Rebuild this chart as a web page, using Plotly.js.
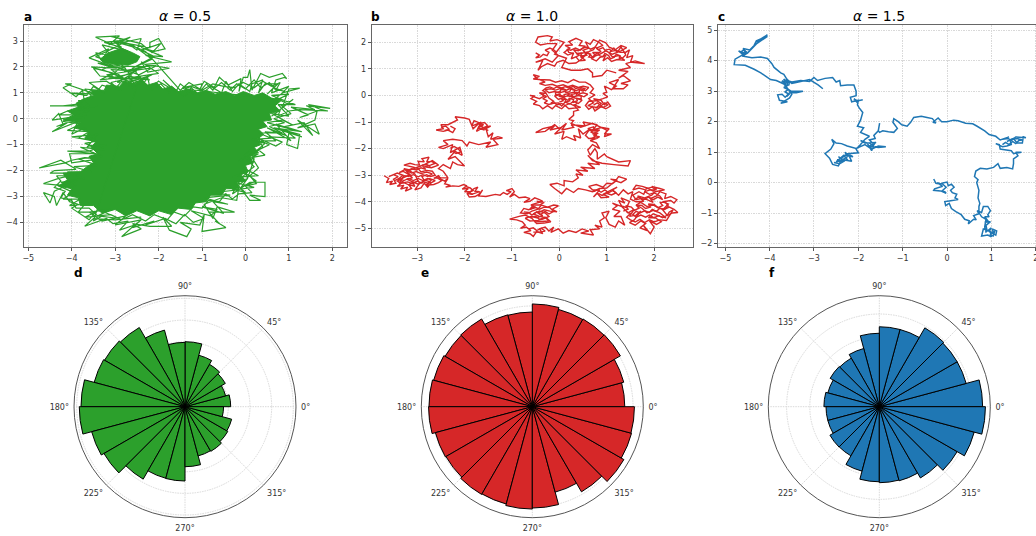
<!DOCTYPE html>
<html><head><meta charset="utf-8">
<script src="https://cdn.plot.ly/plotly-3.0.1.min.js"></script>
<style>html,body{margin:0;padding:0;overflow:hidden;background:#fff}#p{width:1042px;height:536px}</style>
</head><body><div id="p"></div>
<script>
const massA = [-3.75,0.75,-3.5,0.9,-3.55,1.1,-3.25,1.1,-3.2,1.3,-2.9,1.25,-2.8,1.45,-2.55,1.35,-2.4,1.5,-2.25,1.3,-2.05,1.4,-1.9,1.15,-1.7,1.25,-1.55,1.05,-1.3,1.15,-1.1,1.0,-0.9,1.1,-0.7,0.95,-0.45,1.05,-0.25,0.9,-0.05,1.05,0.2,0.9,0.4,1.0,0.6,0.8,0.82,0.7,0.68,0.5,0.8,0.3,0.55,0.2,0.6,-0.05,0.4,-0.1,0.5,-0.3,0.3,-0.4,0.42,-0.6,0.28,-0.78,0.35,-1.0,0.2,-1.1,0.3,-1.3,0.1,-1.45,0.18,-1.7,0,-1.8,0.06,-2.05,-0.1,-2.15,0,-2.4,-0.2,-2.45,-0.15,-2.7,-0.45,-2.7,-0.55,-2.95,-0.8,-2.95,-0.9,-3.2,-1.15,-3.25,-1.25,-3.5,-1.55,-3.45,-1.7,-3.7,-2.0,-3.55,-2.2,-3.75,-2.5,-3.55,-2.75,-3.75,-3.0,-3.5,-3.3,-3.65,-3.5,-3.35,-3.8,-3.35,-3.85,-3.05,-4.1,-2.95,-4.0,-2.7,-4.3,-2.6,-4.1,-2.35,-4.2,-2.1,-3.8,-2.05,-3.65,-1.85,-3.5,-1.7,-3.6,-1.45,-3.4,-1.35,-3.55,-1.1,-3.45,-0.9,-3.7,-0.75,-3.6,-0.5,-3.95,-0.35,-3.8,-0.15,-4.2,-0.05,-3.95,0.15,-4.1,0.3,-3.85,0.45,-3.9,0.6,-3.75,0.75];
const massATop = [-3.35,2.3,-3.15,2.55,-2.85,2.72,-2.6,2.55,-2.43,2.4,-2.5,2.2,-2.7,2.07,-3.0,2.1,-3.25,2.15,-3.35,2.3];
const walkAEdge = [-2.4,-3.8,-3.0,-3.9,-3.5,-3.85,-3.7,-4.15,-3.2,-3.85,-3.05,-4.05,-2.7,-3.95,-2.9,-4.3,-2.55,-4.1,-2.85,-4.55,-2.4,-4.25,-2.6,-4.05,-2.2,-4.15,-1.7,-4.15,-1.9,-3.8,-1.75,-4.3,-1.35,-4.55,-1.25,-4.25,-1.5,-4.0,-1.05,-4.1,-0.95,-3.7,-1.0,-4.35,-0.45,-4.2,-0.7,-3.95,-0.6,-4.05,-0.85,-3.6,-0.25,-3.6,-0.65,-3.4,-0.75,-3.85,-0.95,-3.3,-0.55,-3.05,-0.2,-3.15,-0.15,-2.6,0.1,-3.15,0.35,-3.15,0.1,-2.95,0.45,-3.0,0.45,-2.45,0.1,-2.45,-0.3,-2.9,-0.1,-2.3,0.05,-2.05,-0.3,-2.25,0.3,-2.2,-0.05,-1.9,0.05,-2.3,0.2,-1.55,0.1,-1.2,-0.15,-1.65,0.4,-1.1,0.3,-0.75,0.7,-1.05,0.85,-0.9,0.55,-0.7,1.15,-0.75,1.0,-0.55,0.95,-1.0,1.2,-1.15,1.25,-0.6,0.8,-0.4,1.3,-0.7,0.65,-0.35,1.3,-0.5,0.9,-0.3,1.35,-0.15,1.55,-0.65,1.2,-0.05,1.7,-0.6,1.6,-0.2,1.2,-0.35,1.6,-0.05,1.65,0.3,1.25,0.05,1.45,0.15,1.05,0.45,1.6,0.35,1.4,0.5,1.95,0.4,1.45,0.55,1.75,0.35,1.9,0.3,1.25,0.35,1.0,0.3,0.75,0.1,0.8,0.35,0.6,0.1,1.1,0.75,0.85,0.45,1.0,1.15,1.25,1.18,0.85,1.0,1.0,1.25,0.6,1.0,0.7,1.5,0.9,1.6,0.95,1.55,0.85,1.75,0.55,1.6,0.35,1.75,0.15,1.1,0.1,1.9,0.05,1.6,-0.05,1.6,-0.15,1.05,-0.1,1.55,-0.4,1.3,-0.6,1.6,-0.75,1.1,-0.9,1.35,-1.05,1.05,-1.0,1.35,-1.45,1.2,-1.2,0.95,-1.5,1.35,-1.6,1.05,-1.9,1.5,-1.65,1.1,-2.0,1.45,-2.2,1.2,-2.25,1.6,-2.35,1.35,-2.7,1.55,-3.1,1.4,-2.85,1.05,-3.2,1.45,-3.6,1.4,-3.25,1.0,-3.5,1.25,-3.65,0.9,-4.05,1.0,-3.45,0.95,-4.15,1.35,-4.0,1.35,-4.2,1.2,-3.9,0.85,-3.75,1.1,-3.7,0.6,-4.2,0.5,-4.5,0.5,-3.4,0.5,-4.1,0.3,-4.3,0.15,-3.65,0.15,-4.45,-0.05,-4.3,0.2,-4.2,-0.2,-4.35,-0.3,-4.1,-0.15,-4.45,-0.5,-3.85,-0.1,-4.0,-0.6,-3.7,-0.35,-3.5,-0.85,-4.0,-0.7,-3.4,-0.6,-3.65,-1.1,-3.2,-1.0,-3.6,-1.25,-4.1,-1.25,-3.4,-1.35,-4.05,-1.35,-4.0,-1.7,-3.35,-1.55,-3.7,-1.5,-4.0,-1.6,-4.15,-1.7,-4.75,-1.9,-4.25,-1.6,-3.9,-1.95,-4.4,-2.0,-4.5,-2.1,-3.8,-2.1,-4.3,-2.3,-4.65,-2.5,-4.1,-2.6,-3.9,-2.4,-4.4,-2.8,-4.5,-3.25,-4.65,-2.85,-4.4,-3.0,-4.35,-3.35,-4.2,-2.85,-4.05,-3.2,-3.85,-3.3,-4.0,-3.45,-3.6,-3.9,-3.4,-3.5,-2.9,-3.85];
const walkAFringe = [-2.9,-3.85,-3.4,-3.75,-3.1,-3.5,-3.6,-3.6,-3.3,-3.95,-2.75,-3.75,-3.0,-4.1,-2.4,-3.9,-2.6,-4.2,-2.1,-3.95,-2.3,-4.1,-1.85,-3.85,-1.6,-4.05,-1.4,-3.7,-1.2,-4.0,-0.95,-3.85,-1.25,-3.55,-0.8,-3.75,-0.65,-3.5,-1.0,-3.4,-0.5,-3.65,-0.75,-3.2,-0.4,-3.3,-0.95,-3.05,-0.35,-2.95,-0.75,-2.85,-0.2,-2.75,-0.5,-2.6,0.0,-2.85,-0.25,-2.45,0.2,-2.65,-0.3,-2.75,0.05,-2.3,-0.1,-2.65,0.25,-2.4,0.0,-2.1,0.2,-1.85,0.05,-1.6,0.3,-1.35,0.1,-1.45,0.45,-0.95,0.15,-0.8,0.6,-0.75,0.3,-0.55,0.75,-0.55,0.95,-0.65,0.5,-0.35,1.05,-0.85,0.7,-0.2,1.15,-0.45,0.5,-0.15,0.85,-0.05,1.1,-0.25,0.6,0.2,1.0,0.1,0.75,0.55,1.0,0.55,0.7,0.8,0.9,1.05,0.65,1.2,0.5,0.95,0.75,1.35,0.45,1.35,0.3,1.0,0.4,1.5,0.15,1.35,0.1,1.05,-0.15,1.35,-0.3,1.05,-0.45,1.45,-0.55,1.0,-0.8,1.25,-1.05,0.9,-1.25,1.2,-1.4,0.85,-1.7,1.25,-1.75,1.0,-1.95,1.35,-2.15,1.1,-2.4,1.5,-2.6,1.2,-2.85,1.45,-3.0,1.15,-3.3,1.3,-3.4,1.1,-3.7,1.15,-3.5,0.8,-3.85,0.7,-3.6,0.55,-3.95,0.35,-3.6,0.3,-4.0,0.05,-3.7,0.05,-4.2,-0.1,-3.8,-0.2,-4.1,-0.45,-3.6,-0.5,-3.85,-0.75,-3.4,-0.85,-3.7,-0.95,-3.25,-1.2,-3.8,-1.1,-3.3,-1.45,-3.85,-1.55,-3.4,-1.8,-3.95,-1.85,-3.55,-2.05,-4.1,-2.05,-3.7,-2.3,-4.25,-2.45,-3.9,-2.6,-4.35,-2.55,-3.95,-2.85,-4.2,-3.1,-3.8,-3.1,-4.05,-3.35,-3.7,-3.3,-3.85,-3.6,-3.45,-3.6,-3.7,-3.8,-3.3,-3.75,-3.5,-3.95];
const walkATop = [-2.5,1.25,-2.7,1.65,-2.2,1.5,-3.35,1.65,-3.5,1.95,-2.9,1.7,-3.55,2.0,-2.95,1.95,-3.6,2.35,-3.15,2.7,-3.3,2.25,-3.45,2.55,-3.1,2.45,-3.3,2.85,-2.7,2.6,-3.45,3.15,-2.9,3.2,-3.15,2.85,-2.65,3.15,-2.95,2.9,-2.4,3.1,-2.5,2.65,-2.7,2.9,-2.2,2.75,-2.2,2.95,-2.0,3.1,-1.85,2.7,-2.1,2.6,-2.4,2.75,-1.9,2.4,-2.3,2.45,-1.7,2.2,-2.3,2.1,-1.75,1.95,-2.25,1.8,-2.4,2.2,-2.0,1.75,-2.6,1.6,-2.9,2.2,-3.2,2.05,-2.3,2.0,-2.8,1.85,-2.2,1.95,-3.2,1.7,-2.7,1.45,-3.1,1.9,-2.5,1.85,-3.0,1.55,-2.4,1.6,-2.8,1.3,-2.3,1.35,-2.6,1.95,-2.15,2.3,-2.6,2.85,-3.05,3.0,-2.85,2.75,-3.25,2.95,-2.75,3.05,-3.1,3.18,-2.4,2.9,-2.15,2.55,-1.95,2.9,-2.4,2.65,-2.1,2.4,-2.55,2.0,-2.05,2.05,-2.45,1.7,-2.9,1.95,-3.15,1.55,-2.6,1.75,-2.95,1.4,-2.5,1.5,-2.15,1.7,-2.6,1.35,-3.05,1.75,-3.35,1.5,-2.85,1.6,-3.3,1.9,-3.05,2.05,-3.4,2.15,-3.1,2.0,-2.75,1.95,-3.45,2.4,-3.0,2.75,-3.2,2.6,-2.85,2.9,-2.55,2.75,-2.9,3.05,-2.3,2.6];
const walkAUpper = [-1.5,1.1,-1.3,1.4,-1.05,1.15,-0.95,1.45,-0.7,1.2,-0.55,1.4,-0.35,1.1,-0.2,1.35,0,1.15,0.2,1.5,0.35,1.2,0.55,1.4,0.7,1.1,0.8,1.4,0.6,1.25,0.4,1.45,0.2,1.2,-0.05,1.4,-0.25,1.2,-0.5,1.25,-0.75,1.35,-1.0,1.1,-1.25,1.25,-1.4,1.15,0.75,0.75,1.0,0.95,0.6,0.9,0.9,0.7,1.15,0.55,0.8,0.55,1.05,0.2,0.65,0.0,0.9,-0.15,0.55,-0.3,0.85,-0.55,0.45,-0.5,0.7,-0.85,0.35,-0.85,0.55,-1.0,0.3,-1.2,0.45,-1.4,0.15,-1.5,0.3,-1.9,0.1,-2.2,0.25,-2.5,0,-2.6,0.15,-2.85,-0.15,-2.9,-0.3,-3.1,-0.45,-2.9,-0.6,-3.2,-0.85,-3.15,-1.0,-3.45,-1.2,-3.4,-1.4,-3.75,-1.65,-3.6,-1.8,-3.9,-2.1,-3.7,-2.3,-3.95,-2.6,-3.7,-2.85,-3.9,-3.1,-3.7,-3.4,-3.75,-3.6,-3.45,-3.9,-3.45,-4.0,-3.15,-4.25,-3.05,-4.15,-2.8,-4.4,-2.65,-4.25,-2.4,-4.35,-2.2,-3.95,-2.2];
const walkB = [-3.7,-3.02,-3.6,-3.12,-3.65,-3.28,-3.52,-3.22,-3.58,-3.35,-3.45,-3.3,-3.5,-3.15,-3.4,-3.05,-3.5,-2.98,-3.6,-3.05,-3.42,-2.92,-3.3,-3.0,-3.4,-3.15,-3.3,-3.25,-3.42,-3.42,-3.28,-3.38,-3.35,-3.52,-3.2,-3.45,-3.25,-3.6,-3.12,-3.5,-3.18,-3.35,-3.05,-3.42,-3.1,-3.25,-3.22,-3.15,-3.1,-3.1,-3.2,-2.95,-3.3,-2.85,-3.38,-2.9,-3.25,-2.78,-3.15,-2.85,-3.05,-2.95,-3.0,-3.15,-2.95,-3.3,-3.05,-3.55,-2.92,-3.48,-2.85,-3.3,-2.78,-3.45,-2.7,-3.28,-2.62,-3.2,-2.75,-3.12,-2.85,-3.2,-2.9,-3.05,-2.8,-2.98,-2.72,-3.05,-2.62,-3.0,-2.68,-2.85,-2.8,-2.82,-2.92,-2.88,-2.98,-2.75,-3.08,-2.7,-3.2,-2.65,-3.28,-2.62,-3.15,-2.55,-3.05,-2.6,-2.95,-2.62,-2.98,-2.48,-2.85,-2.5,-2.9,-2.38,-2.75,-2.32,-2.8,-2.5,-2.7,-2.48,-2.62,-2.55,-2.72,-2.62,-2.85,-2.68,-2.7,-2.72,-2.55,-2.62,-2.68,-2.45,-2.85,-2.6,-3.02,-2.72,-3.15,-2.8,-3.28,-2.75,-3.15,-2.98,-3.3,-3.1,-3.42,-3.22,-3.35,-3.3,-3.2,-3.25,-3.1,-3.32,-3.0,-3.22,-2.9,-3.3,-2.85,-3.18,-2.72,-3.25,-2.82,-3.38,-2.65,-3.35,-2.55,-3.28,-2.48,-3.2,-2.58,-3.1,-2.65,-3.12,-2.55,-3.02,-2.5,-3.15,-2.42,-3.22,-2.35,-3.12,-2.42,-3.32,-2.3,-3.38,-2.4,-3.45,-2.25,-3.4,-2.12,-3.42,-2.02,-3.35,-1.95,-3.4,-2.05,-3.52,-1.92,-3.5,-2.0,-3.62,-1.88,-3.62,-1.8,-3.5,-1.72,-3.45,-1.78,-3.6,-1.68,-3.62,-1.85,-3.72,-1.95,-3.68,-1.9,-3.82,-1.78,-3.8,-1.7,-3.72,-1.62,-3.55,-1.7,-3.78,-1.55,-3.8,-1.35,-3.72,-1.25,-3.75,-1.18,-3.65,-1.1,-3.72,-1.02,-3.62,-1.12,-3.58,-1.0,-3.5,-0.95,-3.62,-1.05,-3.82,-0.95,-3.72,-0.85,-3.85,-0.72,-3.82,-0.62,-3.88,-0.75,-4.02,-0.62,-3.98,-0.52,-3.85,-0.42,-3.92,-0.35,-3.98,-0.48,-4.05,-0.6,-4.12,-0.5,-4.22,-0.65,-4.3,-0.75,-4.25,-0.82,-4.42,-0.68,-4.45,-0.58,-4.35,-0.45,-4.28,-0.38,-4.12,-0.25,-4.2,-0.12,-4.12,-0.02,-4.15,-0.15,-4.28,-0.05,-4.38,-0.2,-4.35,-0.32,-4.3,-0.45,-4.42,-0.35,-4.52,-0.48,-4.6,-0.6,-4.55,-0.72,-4.62,-0.62,-4.72,-0.45,-4.7,-0.35,-4.65,-0.22,-4.55,-0.3,-4.42,-0.42,-4.35,-0.55,-4.45,-0.42,-4.55,-0.28,-4.6,-0.18,-4.75,-0.32,-4.8,-0.48,-4.82,-0.58,-4.62,-0.72,-4.5,-0.85,-4.55,-1.05,-4.65,-0.9,-4.68,-0.78,-4.75,-0.72,-4.88,-0.82,-5.0,-0.7,-4.95,-0.6,-5.08,-0.75,-5.15,-0.62,-5.2,-0.55,-5.3,-0.48,-5.12,-0.35,-5.2,-0.42,-5.02,-0.3,-4.95,-0.22,-5.1,-0.12,-4.95,-0.18,-5.15,-0.02,-5.02,0.08,-5.18,0.2,-5.08,0.35,-5.15,0.48,-5.02,0.62,-5.1,0.45,-5.18,0.72,-5.25,0.65,-5.05,0.85,-5.02,0.75,-4.88,0.9,-4.95,0.85,-4.72,0.95,-4.6,0.9,-4.42,1.05,-4.35,0.98,-4.6,1.05,-4.85,1.18,-4.95,1.25,-4.72,1.38,-4.88,1.3,-4.55,1.15,-4.55,1.28,-4.35,1.12,-4.28,1.22,-4.15,1.12,-4.05,1.32,-4.18,1.25,-3.95,1.38,-4.05,1.3,-3.85,1.48,-3.98,1.42,-4.22,1.3,-4.15,1.45,-4.42,1.58,-4.28,1.48,-4.55,1.62,-4.5,1.72,-4.35,1.58,-4.68,1.48,-4.78,1.6,-4.88,1.72,-4.72,1.82,-4.82,1.7,-4.98,1.85,-5.08,1.78,-4.9,1.92,-5.2,2.0,-4.95,1.9,-4.72,2.05,-4.85,2.15,-4.75,2.02,-4.6,1.88,-4.6,1.98,-4.45,2.12,-4.55,2.25,-4.6,2.12,-4.42,1.98,-4.32,1.85,-4.42,1.75,-4.25,1.62,-4.12,1.72,-4.02,1.85,-4.18,1.98,-4.12,2.08,-4.22,2.2,-4.3,2.32,-4.2,2.42,-4.28,2.5,-4.4,2.38,-4.42,2.28,-4.52,2.18,-4.3,2.3,-4.08,2.18,-4.0,2.35,-3.95,2.42,-4.05,2.48,-3.92,2.35,-3.8,2.22,-3.88,2.25,-3.7,2.12,-3.62,2.05,-3.78,1.92,-3.88,1.98,-4.02,1.85,-3.92,1.72,-3.88,1.62,-3.92,1.55,-3.75,1.68,-3.62,1.78,-3.72,1.82,-3.55,1.68,-3.48,1.55,-3.55,1.62,-3.38,1.75,-3.42,1.85,-3.48,1.98,-3.6,2.05,-3.48,1.95,-3.42,2.12,-3.5,2.22,-3.55,2.02,-3.62,1.95,-3.75,1.8,-3.85,1.65,-3.78,1.78,-3.98,1.62,-4.0,1.5,-3.9,1.55,-3.62,1.45,-3.7,1.35,-3.55,1.25,-3.75,1.12,-3.55,1.22,-3.45,1.05,-3.6,0.92,-3.72,1.05,-3.82,0.88,-3.85,0.8,-3.68,0.72,-3.82,0.85,-3.55,0.7,-3.55,0.62,-3.42,0.78,-3.35,0.92,-3.45,1.0,-3.3,1.12,-3.32,1.22,-3.18,1.08,-3.15,1.3,-3.28,1.42,-3.15,1.25,-3.05,1.18,-3.22,1.0,-3.48,0.85,-3.5,0.7,-3.62,0.55,-3.55,0.4,-3.5,0.3,-3.65,0.15,-3.5,0.05,-3.7,-0.1,-3.5,-0.2,-3.35,-0.05,-3.3,0.1,-3.4,0.1,-3.2,0.28,-3.25,0.4,-3.1,0.35,-2.95,0.5,-3.0,0.35,-2.8,0.6,-2.85,0.45,-2.7,0.75,-2.75,0.6,-2.55,0.85,-2.6,0.65,-2.35,0.6,-2.25,0.7,-2.45,0.9,-2.55,1.15,-2.6,1.45,-2.65,1.5,-2.45,1.25,-2.5,1.0,-2.3,0.95,-2.2,0.8,-2.4,0.8,-2.15,0.75,-2.0,0.65,-2.25,0.6,-2.05,0.7,-1.85,0.85,-2.0,0.78,-1.78,0.65,-1.7,0.78,-1.62,0.85,-1.55,0.72,-1.52,0.82,-1.42,0.7,-1.45,0.85,-1.3,0.72,-1.32,0.6,-1.25,0.72,-1.18,0.8,-1.6,0.62,-1.62,0.55,-1.5,0.65,-1.25,0.5,-1.45,0.4,-1.25,0.45,-1.6,0.3,-1.5,0.35,-1.7,0.15,-1.55,0.05,-1.65,0.1,-1.35,-0.1,-1.45,0.05,-1.2,-0.2,-1.3,-0.1,-1.15,-0.35,-1.25,-0.5,-1.4,-0.3,-1.35,-0.1,-1.1,0,-1.25,0.15,-1.05,0.05,-1.3,0.3,-1.2,0.25,-1.1,0.55,-1.15,0.5,-1.0,0.8,-1.1,0.7,-1.3,0.9,-1.2,1.05,-1.25,0.95,-1.45,1.1,-1.45,0.95,-1.55,1.0,-1.3,0.7,-1.05,0.45,-1.2,0.25,-1.05,0.3,-0.95,0.2,-0.9,0.3,-0.75,0.3,-0.6,0.4,-0.55,0.3,-0.35,0.45,-0.45,0.2,-0.5,0.12,-0.38,0.05,-0.5,-0.08,-0.38,-0.15,-0.5,-0.25,-0.38,-0.35,-0.5,-0.42,-0.38,-0.55,-0.32,-0.48,-0.22,-0.6,-0.12,-0.52,-0.02,-0.62,0,-0.42,-0.12,-0.32,-0.02,-0.42,0.1,-0.28,0.08,-0.22,-0.1,-0.12,-0.22,-0.18,-0.3,-0.02,-0.28,0.05,-0.4,0.12,-0.25,0.22,-0.32,0.3,-0.22,0.4,-0.3,0.48,-0.18,0.38,-0.12,0.28,-0.08,0.18,-0.18,0.08,-0.08,-0.02,-0.15,-0.1,-0.02,0,0.02,0.12,-0.05,0.22,0.03,0.32,-0.05,0.42,0.02,0.52,-0.05,0.6,0.05,0.5,0.1,0.4,0.05,0.3,0.12,0.2,0.08,0.1,0.15,0,0.1,-0.1,0.15,-0.22,0.1,-0.3,0.22,-0.18,0.25,-0.08,0.2,0.05,0.28,0.15,0.2,0.25,0.28,0.35,0.18,0.45,0.25,0.55,0.18,0.62,0.3,0.5,0.35,0.4,0.3,0.28,0.38,0.18,0.33,0.08,0.4,-0.05,0.35,-0.15,0.42,-0.3,0.38,-0.42,0.45,-0.3,0.5,-0.42,0.6,-0.55,0.62,-0.42,0.72,-0.55,0.78,-0.45,0.6,-0.2,0.58,-0.08,0.5,0.05,0.55,0.18,0.48,0.3,0.6,0.42,0.5,0.55,0.5,0.65,0.4,0.72,0.25,0.65,0.1,0.75,0.02,0.62,-0.12,0.72,-0.28,0.6,-0.38,0.78,-0.45,0.88,-0.3,0.72,-0.12,0.88,-0.18,0.95,-0.35,1.02,-0.25,1.08,-0.4,0.98,-0.5,0.88,-0.42,0.75,-0.58,0.7,-0.42,0.62,-0.52,0.55,-0.38,0.62,-0.22,0.78,-0.2,0.92,-0.12,1.02,-0.05,0.92,0.08,1.0,0.12,0.95,0.35,1.1,0.22,1.2,0.35,1.05,0.48,1.25,0.6,1.12,0.25,1.35,0.25,1.45,0.4,1.3,0.45,1.5,0.55,1.35,0.75,1.25,0.65,1.45,0.9,1.25,0.95,1.5,1.05,1.4,1.2,1.6,1.3,1.8,1.2,1.5,1.25,1.55,1.5,1.42,1.42,1.48,1.72,1.38,1.6,1.3,1.82,1.22,1.62,1.15,1.78,1.05,1.6,1.12,1.45,1.25,1.5,1.38,1.32,1.22,1.35,1.1,1.28,1.02,1.42,0.92,1.3,0.98,1.52,0.85,1.42,0.78,1.3,0.68,1.38,0.75,1.55,0.88,1.65,0.78,1.78,0.92,1.88,0.82,2.02,0.72,2.1,0.65,1.92,0.55,2.02,0.62,1.78,0.5,1.7,0.58,1.52,0.45,1.45,0.55,1.32,0.42,1.3,0.35,1.45,0.25,1.38,0.3,1.6,0.18,1.52,0.1,1.62,0.22,1.78,0.12,1.88,0.28,1.9,0.2,2.02,0.35,2.15,0.48,2.05,0.42,1.88,0.55,1.85,0.4,1.68,0.3,1.72,0.38,1.55,0.62,1.65,0.72,1.72,0.85,2.08,0.98,1.98,1.05,1.82,1.18,1.72,1.3,1.88,1.42,1.8,1.3,1.68,1.12,1.55,0.98,1.68,0.85,1.55,0.7,1.45,0.6,1.62,0.48,1.38,0.35,1.22,0.2,1.2,0.08,1.32,-0.05,1.25,-0.1,1.1,-0.25,1.2,-0.38,1.08,-0.45,0.95,-0.35,1.32,-0.5,1.25,-0.3,1.38,-0.15,1.25,-0.02,1.5,-0.15,1.7,-0.05,1.95,-0.25,1.95,-0.4,1.9,-0.5,2.0,-0.45,2.2,-0.25,2.25,-0.15,2.2,-0.2,2.05,-0.05,2.1,0.1,2.0,-0.1,1.55,0.15,1.4,0.05,1.05,0.25,0.95,0.45,0.95,0.6,1.0,0.7,0.85,0.7,0.7,0.9,0.75,1.0,0.95,1.2,0.85];
const walkBLeft = [-2.6,-3.05,-2.5,-3.1,-2.35,-3.1,-2.45,-2.85,-2.55,-2.75,-2.45,-2.6,-2.3,-2.75,-2.25,-2.5,-2.15,-2.6,-2.0,-2.65,-2.2,-2.3,-2.35,-2.4,-2.2,-2.1,-2.05,-2.25,-2.1,-1.95,-2.3,-2.15,-2.25,-1.85,-2.45,-2.0,-2.55,-1.95,-2.35,-1.85,-2.45,-1.7,-2.25,-1.65,-2.05,-1.7,-1.95,-1.9,-1.9,-1.75,-1.7,-1.85,-1.45,-1.75,-1.55,-1.95,-1.3,-1.85,-1.4,-1.65,-1.2,-1.6,-1.3,-1.55,-1.45,-1.65,-1.4,-1.4,-1.5,-1.55,-1.55,-1.25,-1.45,-1.15,-1.6,-1.2,-1.75,-1.35,-1.65,-1.0,-1.85,-1.15,-1.8,-0.95,-1.6,-1.1,-1.72,-1.22,-1.58,-1.3,-1.7,-1.05,-1.82,-1.25,-1.9,-0.9,-2.0,-0.85,-2.2,-0.8,-2.15,-0.92,-2.35,-1.1,-2.5,-1.1,-2.45,-1.25,-2.6,-1.3,-2.45,-1.35,-2.35,-1.3,-2.25,-1.4,-2.2,-1.25,-2.3,-1.15];
const walkBDense = [0,-0.25,0.08,-0.2,0.04,-0.12,0.14,-0.16,0.12,-0.26,0.22,-0.2,0.2,-0.1,0.3,-0.16,0.28,-0.27,0.38,-0.2,0.36,-0.1,0.46,-0.14,0.46,-0.02,0.36,0,0.38,0.08,0.26,0.04,0.28,-0.05,0.18,-0.02,0.2,0.07,0.1,0.03,0.1,-0.06,0,-0.04,0.02,0.06,-0.08,0.02,-0.08,0.1,0.02,0.15,0.03,0.23,0.12,0.2,0.14,0.11,0.22,0.14,0.24,0.24,0.32,0.19,0.32,0.1,0.42,0.12,0.42,0.22,0.5,0.16,0.54,0.26,0.44,0.3,0.34,0.26,0.3,0.34,0.2,0.28,0.12,0.33,0.05,0.28,-0.05,0.32,-0.12,0.26,-0.2,0.32,-0.28,0.28,-0.35,0.18,-0.28,0.12,-0.36,0.04,-0.27,-0.04,-0.35,-0.12,-0.25,-0.2,-0.32,-0.28,-0.22,-0.34,-0.1,-0.28,-0.05,-0.36,0.05,-0.3,0.12,-0.38,0.22,-0.3,0.3,-0.38,0.38,-0.3,null,null,0.35,1.45,0.42,1.52,0.36,1.58,0.48,1.6,0.44,1.48,0.54,1.5,0.56,1.6,0.66,1.55,0.62,1.45,0.72,1.42,0.76,1.52,0.7,1.62,0.82,1.62,0.84,1.5,0.92,1.45,0.96,1.58,1.04,1.5,1.08,1.38,1.16,1.44,1.2,1.55,1.28,1.5,1.26,1.38,1.34,1.42,1.4,1.52,1.38,1.62,1.28,1.62,1.2,1.7,1.1,1.66,1.06,1.74,0.96,1.7,0.92,1.8,0.82,1.72,0.76,1.82,0.66,1.74,0.58,1.82,0.5,1.78,0.44,1.7,0.34,1.78,0.24,1.7,0.16,1.74,0.2,1.62,0.3,1.58,null,null,-0.5,1.6,-0.42,1.52,-0.5,1.42,-0.4,1.45,-0.34,1.55,-0.26,1.5,-0.22,1.62,-0.3,1.7,-0.2,1.78,-0.12,1.72,-0.06,1.62,null,null,1.35,-4.35,1.45,-4.28,1.4,-4.15,1.52,-4.2,1.58,-4.32,1.68,-4.24,1.62,-4.12,1.74,-4.14,1.82,-4.25,1.92,-4.2,1.88,-4.08,2.0,-4.1,2.08,-4.22,2.18,-4.14,2.12,-4.02,2.24,-4.02,2.3,-4.16,2.22,-4.28,2.12,-4.24,2.05,-4.36,1.96,-4.28,1.9,-4.4,1.8,-4.34,1.7,-4.42,1.62,-4.36,1.55,-4.48,1.62,-4.58,1.72,-4.5,1.82,-4.58,1.9,-4.5,2.0,-4.6,2.1,-4.52,2.18,-4.6,2.28,-4.5,2.32,-4.38,2.4,-4.3,2.26,-4.7,2.12,-4.68,2.0,-4.76,1.9,-4.68,1.8,-4.78,1.7,-4.66,1.6,-4.76,1.5,-4.68,1.42,-4.58,1.5,-4.44,1.42,-4.38,null,null,1.58,-3.92,1.68,-3.82,1.78,-3.92,1.88,-3.82,1.98,-3.92,2.08,-3.82,2.18,-3.92,2.12,-3.78,2.0,-3.66,1.9,-3.72,1.8,-3.62,1.92,-3.55,2.05,-3.55,1.95,-3.45,1.82,-3.52,null,null,-3.48,-3.2,-3.38,-3.12,-3.28,-3.2,-3.18,-3.12,-3.08,-3.2,-2.98,-3.12,-2.88,-3.2,-2.78,-3.12,-2.7,-3.18,-2.78,-3.3,-2.88,-3.24,-2.98,-3.34,-3.08,-3.26,-3.18,-3.36,-3.28,-3.28,-3.38,-3.3,-3.28,-3.02,-3.18,-3.04,-3.08,-2.98,-2.98,-3.06,-2.88,-2.98,-2.78,-3.05,-2.68,-2.95,-2.8,-2.88,-2.92,-2.94,-3.02,-2.86,-3.12,-2.92,-3.22,-2.84,-3.12,-2.76,-3.02,-2.8,-2.92,-2.72,-2.82,-2.78,-2.9,-2.62,-2.8,-2.6,-2.72,-2.68,null,null,-0.75,-4.38,-0.65,-4.4,-0.58,-4.5,-0.48,-4.38,-0.4,-4.48,-0.3,-4.36,-0.22,-4.46,-0.12,-4.36,-0.2,-4.22,-0.32,-4.2,-0.42,-4.28,-0.52,-4.2,-0.62,-4.28,-0.55,-4.12,-0.42,-4.12,-0.32,-4.02,-0.48,-3.98,null,null,-0.62,-4.58,-0.5,-4.54,-0.42,-4.66,-0.3,-4.58,-0.22,-4.72,-0.38,-4.74,-0.52,-4.76,null,null,-0.65,-5.02,-0.55,-4.98,-0.48,-5.08,-0.38,-5.0,-0.3,-5.1,-0.42,-5.14,-0.55,-5.14,null,null,0.72,-3.62,0.8,-3.55,0.88,-3.64,0.96,-3.55,1.04,-3.66,1.12,-3.58,1.2,-3.66,1.1,-3.74,1.0,-3.68,0.9,-3.76,0.82,-3.68,null,null,0.72,-0.36,0.8,-0.28,0.88,-0.38,0.96,-0.28,1.02,-0.36,0.94,-0.44,0.84,-0.42,0.76,-0.48,null,null,-1.72,-1.2,-1.62,-1.15,-1.68,-1.05,-1.58,-1.02,-1.52,-1.12,-1.58,-1.24,-1.5,-1.32,null,null,-2.3,-1.98,-2.22,-1.92,-2.14,-2.0,-2.08,-2.12,-2.18,-2.18,-2.28,-2.08,null,null,-1.98,-3.42,-1.88,-3.48,-1.82,-3.58,-1.92,-3.66,-1.82,-3.72,null,null,0.68,-1.62,0.76,-1.55,0.7,-1.68,0.78,-1.45,0.66,-1.38,0.78,-1.28,0.62,-1.32,null,null,-2.5,-1.2,-2.4,-1.15,-2.32,-1.28,-2.42,-1.32];
const walkC = [-0.3,0.12,-0.25,-0.02,-0.12,-0.05,-0.22,0,-0.1,-0.12,-0.28,-0.2,-0.3,-0.25,-0.15,-0.27,-0.05,-0.3,-0.02,-0.35,-0.12,-0.28,-0.02,-0.15,-0.12,-0.02,0,0.02,0.03,-0.1,0.1,-0.05,0.16,-0.15,0.08,-0.25,0.12,-0.33,0.22,-0.38,0.18,-0.5,0.25,-0.55,0.15,-0.58,0.05,-0.6,-0.05,-0.62,-0.03,-0.75,0.05,-0.68,0.1,-0.85,0.2,-0.95,0.32,-1.05,0.4,-1.2,0.5,-1.25,0.48,-1.35,0.6,-1.2,0.66,-1.22,0.6,-1.08,0.72,-1.02,0.68,-0.92,0.78,-0.98,0.82,-0.78,0.92,-0.78,0.98,-0.92,0.92,-1.05,0.95,-1.12,0.85,-1.12,0.92,-1.25,0.85,-1.3,0.98,-1.28,0.88,-1.4,0.9,-1.55,0.82,-1.52,0.78,-1.75,0.92,-1.72,1.0,-1.78,0.98,-1.62,1.1,-1.72,1.12,-1.58,1.02,-1.52,1.05,-1.68,0.95,-1.6,1.0,-1.48,0.88,-1.62,0.85,-1.45,0.88,-1.2,0.78,-1.12,0.72,-0.98,0.72,-0.78,0.74,-0.68,0.7,-0.5,0.72,-0.25,0.67,0,0.7,0.1,0.62,0.2,0.65,0.38,0.75,0.47,0.9,0.45,1.05,0.5,1.15,0.62,1.2,0.47,1.35,0.5,1.48,0.45,1.5,0.62,1.5,0.78,1.6,0.88,1.55,1.0,1.68,1.0,1.5,0.95,1.45,1.05,1.3,1.08,1.2,1.1,1.18,1.25,1.1,1.28,1.25,1.18,1.35,1.2,1.45,1.25,1.42,1.4,1.5,1.45,1.58,1.3,1.7,1.3,1.72,1.5,1.78,1.47,1.55,1.5,1.45,1.38,1.38,1.45,1.25,1.42,1.4,1.5,1.2,1.4,1.1,1.52,0.95,1.58,0.85,1.7,0.68,1.85,0.58,1.93,0.42,1.95,0.25,2.03,0.15,2.05,0,2.0,-0.12,2.0,-0.2,2.12,-0.32,1.98,-0.25,1.96,-0.33,2.1,-0.45,2.14,-0.58,2.18,-0.75,2.14,-0.82,1.98,-0.9,1.85,-1.02,1.9,-1.1,2.0,-1.2,2.1,-1.22,1.98,-1.12,1.78,-1.2,1.65,-1.32,1.67,-1.45,1.7,-1.52,1.65,-1.55,1.7,-1.52,1.95,-1.55,1.7,-1.65,1.55,-1.62,1.45,-1.75,1.4,-1.65,1.25,-1.7,1.05,-1.8,1.3,-1.95,1.38,-1.85,1.3,-1.6,1.32,-1.75,1.2,-1.55,1.15,-1.38,1.18,-1.55,1.2,-1.7,1.1,-1.85,1.25,-2.05,1.12,-2.25,1.2,-2.38,1.28,-2.5,1.3,-2.6,1.42,-2.55,1.28,-2.62,1.1,-2.75,0.95,-2.65,0.8,-2.58,0.6,-2.45,0.55,-2.4,0.7,-2.25,0.85,-2.3,1.0,-2.2,0.85,-2.15,0.7,-2.35,0.75,-2.5,0.68,-2.33,0.9,-2.12,0.85,-2.25,0.95,-2.0,0.98,-2.05,1.1,-1.95,1.25,-1.85,1.42,-1.75,1.52,-1.95,1.65,-1.88,1.8,-2.02,1.85,-1.95,2.05,-1.9,2.3,-1.98,2.45,-2.02,2.55,-2.0,2.7,-2.15,2.65,-2.18,2.8,-2.05,2.85,-2.05,3.0,-2.1,3.2,-2.25,3.2,-2.4,3.18,-2.42,3.35,-2.5,3.3,-2.58,3.45,-2.75,3.42,-2.92,3.35,-3.0,3.45,-3.1,3.32,-3.3,3.35,-3.5,3.3,-3.6,3.35,-3.7,3.25,-3.85,3.35,-3.98,3.38,-4.1,3.5,-4.2,3.6,-4.35,3.72,-4.55,3.85,-4.8,3.87,-4.78,4.05,-4.6,4.2,-4.7,4.32,-4.52,4.22,-4.6,4.4,-4.45,4.35,-4.35,4.5,-4.3,4.65,-4.15,4.75,-4.05,4.85,-4.3,4.62,-4.05,4.8,-4.3,4.55,-4.5,4.25,-4.62,4.15,-4.4,4.1,-4.2,4.12,-4.05,4.07,-3.95,3.9,-3.9,3.78,-3.75,3.6,-3.68,3.55,-3.55,3.25,-3.68,3.4,-3.62,3.1,-3.52,3.0,-3.35,3.0,-3.25,3.0,-3.4,2.95,-3.55,2.95,-3.65,2.8,-3.72,2.9,-3.82,2.88,-3.78,2.7,-3.6,2.65,-3.75,2.6,-3.55,2.78,-3.5,2.9,-3.6,3.1,-3.72,3.3,-3.6,3.38,-3.5,3.25,-3.3,3.32,-3.1,3.38,-2.9,3.2,-2.8,3.08];
const walkCDense = [-3.72,3.35,-3.65,3.25,-3.58,3.32,-3.62,3.18,-3.55,3.22,-3.68,3.12,-3.58,3.05,-3.66,2.98,-3.56,2.9,-3.62,2.82,null,null,-2.45,0.85,-2.38,0.78,-2.32,0.88,-2.25,0.76,-2.38,0.68,-2.48,0.75,-2.3,0.72,-2.42,0.62,-2.55,0.66,null,null,1.25,1.25,1.32,1.32,1.4,1.25,1.48,1.35,1.55,1.28,1.62,1.38,1.7,1.4,1.58,1.45,1.45,1.42,1.35,1.35,null,null,-1.75,1.3,-1.68,1.22,-1.62,1.3,-1.72,1.15,-1.78,1.22,null,null,0.95,-1.58,1.02,-1.65,1.08,-1.58,1.04,-1.75,0.96,-1.7,null,null,-4.66,4.28,-4.58,4.35,-4.52,4.28,-4.62,4.22,-4.55,4.18,null,null,-1.9,2.72,-2.02,2.68,-2.1,2.75,-2.02,2.62];
const roseD = [2.11,1.94,2.15,2.26,2.46,3.0,2.97,3.66,4.22,4.29,4.34,4.8,4.88,4.46,4.32,3.86,3.42,3.43,2.77,2.35,2.38,2.28,2.23,1.78];
const roseE = [4.59,4.70,5.05,5.03,5.0,5.10,4.70,4.72,5.03,5.0,5.07,5.13,5.15,4.98,4.95,5.03,5.0,5.08,5.03,4.39,4.88,5.25,5.10,5.07];
const roseF = [4.46,3.88,3.88,3.93,3.45,3.45,3.17,2.60,2.42,2.45,2.30,2.39,2.30,2.30,2.46,2.45,2.88,3.24,3.28,3.31,3.55,3.88,4.24,4.58];
const binCentres = [7.5,22.5,37.5,52.5,67.5,82.5,97.5,112.5,127.5,142.5,157.5,172.5,187.5,202.5,217.5,232.5,247.5,262.5,277.5,292.5,307.5,322.5,337.5,352.5];
const angleTicks = [0,45,90,135,180,225,270,315];
const angleLabels = ['0°','45°','90°','135°','180°','225°','270°','315°'];
const green='#2ca02c', red='#d62728', blue='#1f77b4';
const W=1042, H=536;
const xs=a=>a.filter((v,i)=>i%2===0), ys=a=>a.filter((v,i)=>i%2===1);
const walkA=[...walkAEdge,...walkAFringe,...walkATop,...walkAUpper];
function line(a,c,ax,ay,w){return {type:'scatter',mode:'lines',x:xs(a),y:ys(a),xaxis:ax,yaxis:ay,line:{color:c,width:w||1.2,simplify:false},hoverinfo:'skip',showlegend:false};}
function mass(a,c,ax,ay){return {type:'scatter',mode:'lines',x:xs(a),y:ys(a),xaxis:ax,yaxis:ay,fill:'toself',fillcolor:c,line:{color:c,width:1,simplify:false},hoverinfo:'skip',showlegend:false};}
function bar(r,c,sp){return {type:'barpolar',r:r,theta:binCentres,width:binCentres.map(()=>15),subplot:sp,marker:{color:c,line:{color:'#000',width:1}},hoverinfo:'skip',showlegend:false};}
const data=[mass(massA,green,'x','y'),mass(massATop,green,'x','y'),line(walkA,green,'x','y'),line(walkB,red,'x2','y2',1.4),line(walkBLeft,red,'x2','y2',1.4),line(walkBDense,red,'x2','y2',1.4),line(walkC,blue,'x3','y3',1.5),line(walkCDense,blue,'x3','y3',1.5),bar(roseD,green,'polar'),bar(roseE,red,'polar2'),bar(roseF,blue,'polar3')];
const dx=(a,b)=>[a/W,b/W], dy=(t,b)=>[(H-b)/H,(H-t)/H];
function cart(dom,rng,anchor){return {domain:dom,range:rng,anchor:anchor,showgrid:true,gridcolor:'#d9d9d9',griddash:'1.5px,1px',gridwidth:1,zeroline:false,showline:true,mirror:true,linecolor:'#666',linewidth:1,ticks:'outside',ticklen:3,tickcolor:'#555',tickfont:{family:'DejaVu Sans',size:8,color:'#333'},dtick:1,tick0:0};}
function pol(cx,cy,r,range,rings){return {domain:{x:[(cx-r)/W,(cx+r)/W],y:[(H-cy-r)/H,(H-cy+r)/H]},bgcolor:'rgba(0,0,0,0)',
 radialaxis:{range:[0,range],tickvals:rings,showticklabels:false,ticks:'',showline:false,gridcolor:'#d9d9d9',griddash:'1.5px,1px',gridwidth:1},
 angularaxis:{thetaunit:'degrees',direction:'counterclockwise',rotation:0,tickmode:'array',tickvals:angleTicks,ticktext:angleLabels,ticks:'outside',ticklen:3,tickcolor:'rgba(0,0,0,0)',showline:true,linecolor:'#555',linewidth:1,gridcolor:'#d9d9d9',griddash:'1.5px,1px',tickfont:{family:'DejaVu Sans',size:8,color:'#333'}}};}
const ann=(x,y,t,s,w)=>({xref:'paper',yref:'paper',x:x/W,y:(H-y)/H,text:t,showarrow:false,xanchor:w?'left':'center',yanchor:'middle',font:{family:'DejaVu Sans',size:s,color:'#000'}});
const layout={width:W,height:H,margin:{l:0,r:0,t:0,b:0},paper_bgcolor:'#fff',plot_bgcolor:'#fff',dragmode:false,
 xaxis:cart(dx(23.5,346.5),[-5.11,2.327],'y'),yaxis:cart(dy(25,247),[-4.95,3.62],'x'),
 xaxis2:cart(dx(371.7,693),[-3.96,2.82],'y2'),yaxis2:cart(dy(25,247),[-5.70,2.65],'x2'),
 xaxis3:cart(dx(718,1041),[-5.165,2.12],'y3'),yaxis3:cart(dy(25,247),[-2.11,5.17],'x3'),
 polar:pol(185,406.7,111,5.123,[1,2,3,4,5]),polar2:pol(532.3,406.7,111,5.51,[1,2,3,4,5]),polar3:pol(879.3,406.7,111,4.79,[1,2,3,4]),
 annotations:[ann(185,16,'<i>α</i> = 0.5',14),ann(532,16,'<i>α</i> = 1.0',14),ann(879,16,'<i>α</i> = 1.5',14),
  ann(22,17,'<b>a</b>',12,1),ann(369,17,'<b>b</b>',12,1),ann(716,17,'<b>c</b>',12,1),
  ann(72,273,'<b>d</b>',12,1),ann(419,273,'<b>e</b>',12,1),ann(767,273,'<b>f</b>',12,1)]};
Plotly.newPlot('p',data,layout,{displayModeBar:false,staticPlot:true});
</script></body></html>
